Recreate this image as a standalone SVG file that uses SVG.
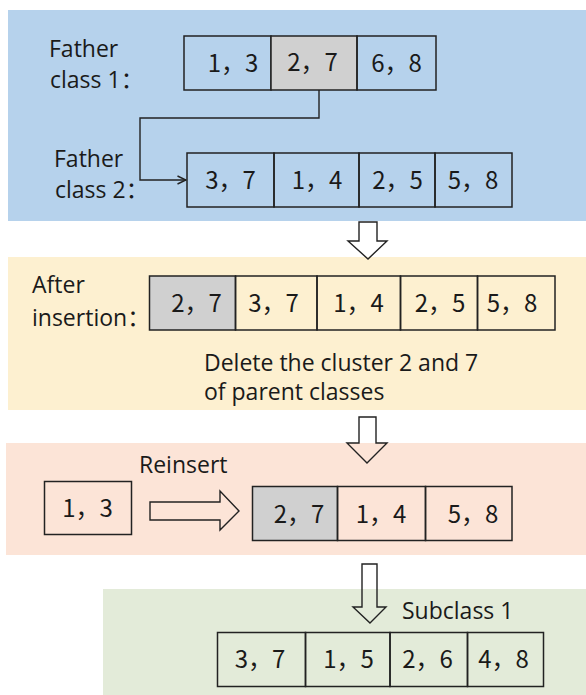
<svg xmlns="http://www.w3.org/2000/svg" width="586" height="695" viewBox="0 0 586 695">
<style>
.lbl{font-family:"Open Sans","Noto Sans CJK SC",sans-serif;font-size:23px;fill:#1a1a1a}
.num{font-family:"Noto Sans CJK SC","Noto Sans",sans-serif;font-size:24px;fill:#1a1a1a;text-anchor:middle}
.cell{fill:none;stroke:#222;stroke-width:1.5}
.gray{fill:#d0d0d0;stroke:#222;stroke-width:1.5}
.conn{fill:none;stroke:#222;stroke-width:1.4}
.blk{fill:none;stroke:#222;stroke-width:1.4;stroke-linejoin:miter}
</style>
<defs>
<marker id="chev" viewBox="0 0 10 10" refX="9.5" refY="5" markerWidth="10" markerHeight="10" markerUnits="userSpaceOnUse" orient="auto">
<path d="M1,1 L9.5,5 L1,9" fill="none" stroke="#222" stroke-width="1.4"/>
</marker>
</defs>

<g id="panels">
<rect x="8" y="10" width="578" height="211" fill="#b6d2ec"/>
<rect x="8" y="257" width="578" height="153" fill="#fdf0d0"/>
<rect x="6" y="443" width="580" height="112" fill="#fce4d7"/>
<rect x="103" y="589" width="483" height="106" fill="#e3ebd9"/>
</g>

<g id="connectors">
<path class="conn" d="M319,90 V118 H140 V180 H186" marker-end="url(#chev)"/>
<path class="blk" d="M359,222 H377 V241 H387 L368,259 L348,241 H359 Z"/>
<path class="blk" d="M359,417 H376 V443 H387 L367,463 L347,443 H359 Z"/>
<path class="blk" d="M362,564 H377 V607 H386 L370,623 L353,607 H362 Z"/>
<path class="blk" d="M150,502 H220 V491 L239,511 L220,530 V520 H150 Z"/>
</g>

<g id="father1">
<text class="lbl" x="49" y="57">Father</text>
<text class="lbl" x="50" y="88">class 1：</text>
<rect class="cell" x="184" y="36" width="87" height="54"/>
<rect class="gray" x="271" y="36" width="86" height="54"/>
<rect class="cell" x="357" y="36" width="79" height="54"/>
<text class="num" x="233" y="72">1，3</text>
<text class="num" x="312.5" y="71">2，7</text>
<text class="num" x="396.5" y="72">6，8</text>
</g>

<g id="father2">
<text class="lbl" x="54" y="167">Father</text>
<text class="lbl" x="55" y="198">class 2：</text>
<rect class="cell" x="187" y="153" width="87" height="54"/>
<rect class="cell" x="274" y="153" width="85" height="54"/>
<rect class="cell" x="359" y="153" width="76" height="54"/>
<rect class="cell" x="435" y="153" width="77" height="54"/>
<text class="num" x="230.5" y="189">3，7</text>
<text class="num" x="317" y="189">1，4</text>
<text class="num" x="397.5" y="189">2，5</text>
<text class="num" x="473" y="189">5，8</text>
</g>

<g id="after">
<text class="lbl" x="32" y="293">After</text>
<text class="lbl" x="32" y="326">insertion：</text>
<rect class="gray" x="149.5" y="276" width="86" height="54"/>
<rect class="cell" x="235.5" y="276" width="81.5" height="54"/>
<rect class="cell" x="317" y="276" width="83.5" height="54"/>
<rect class="cell" x="400.5" y="276" width="77" height="54"/>
<rect class="cell" x="477.5" y="276" width="77.5" height="54"/>
<text class="num" x="196.5" y="312">2，7</text>
<text class="num" x="273.5" y="312">3，7</text>
<text class="num" x="358.5" y="312">1，4</text>
<text class="num" x="440" y="312">2，5</text>
<text class="num" x="512" y="312">5，8</text>
<text class="lbl" x="204" y="371">Delete the cluster 2 and 7</text>
<text class="lbl" x="204" y="400">of parent classes</text>
</g>

<g id="reinsert">
<text class="lbl" x="139" y="473">Reinsert</text>
<rect class="cell" x="44.5" y="481.5" width="87" height="53"/>
<text class="num" x="87.5" y="517">1，3</text>
<rect class="gray" x="252.5" y="486.5" width="85" height="54"/>
<rect class="cell" x="337.5" y="486.5" width="88" height="54"/>
<rect class="cell" x="425.5" y="486.5" width="86.5" height="54"/>
<text class="num" x="299" y="523">2，7</text>
<text class="num" x="381" y="523">1，4</text>
<text class="num" x="473" y="523">5，8</text>
</g>

<g id="subclass">
<text class="lbl" x="402" y="619">Subclass 1</text>
<rect class="cell" x="217.5" y="632.5" width="88" height="54"/>
<rect class="cell" x="305.5" y="632.5" width="84.5" height="54"/>
<rect class="cell" x="390" y="632.5" width="77.5" height="54"/>
<rect class="cell" x="467.5" y="632.5" width="76" height="54"/>
<text class="num" x="260" y="668">3，7</text>
<text class="num" x="348.5" y="668">1，5</text>
<text class="num" x="427.5" y="668">2，6</text>
<text class="num" x="503.5" y="668">4，8</text>
</g>
</svg>
